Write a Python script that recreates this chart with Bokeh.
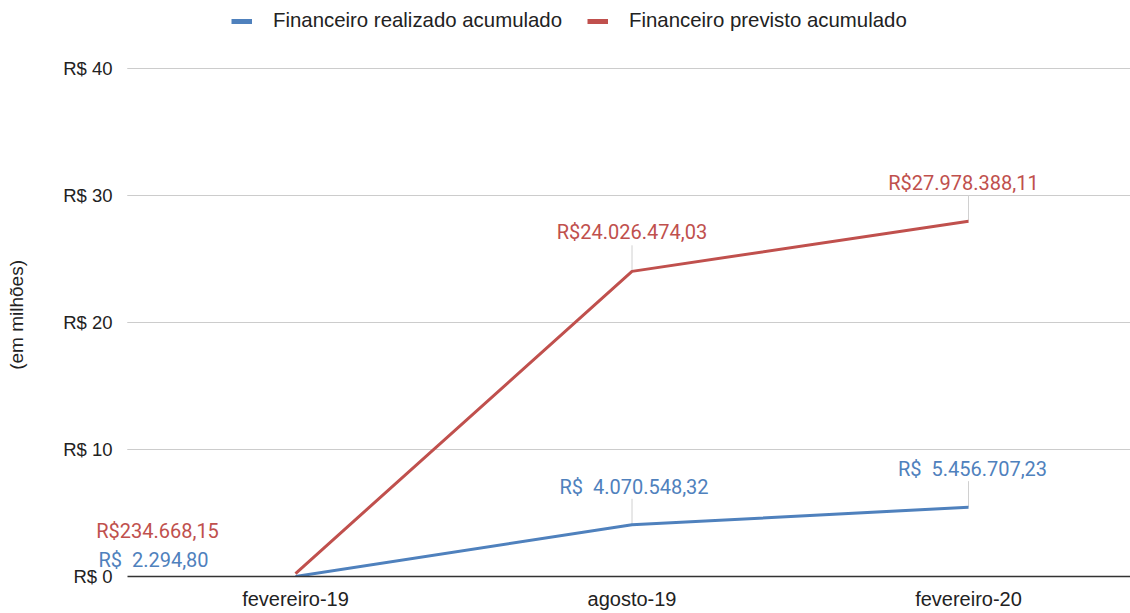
from bokeh.plotting import figure
from bokeh.models import ColumnDataSource, Legend, LegendItem, FixedTicker, Range1d
from bokeh.embed import file_html
from bokeh.resources import INLINE
from bokeh.core.properties import value

# ---- data ----
categories = ["fevereiro-19", "agosto-19", "fevereiro-20"]
realizado = [2294.80, 4070548.32, 5456707.23]          # R$
previsto = [234668.15, 24026474.03, 27978388.11]       # R$
y_ticks = [0, 10, 20, 30, 40]
y_tick_labels = ["R$ 0", "R$ 10", "R$ 20", "R$ 30", "R$ 40"]
series_names = ["Financeiro realizado acumulado", "Financeiro previsto acumulado"]
y_axis_title = "(em milhões)"


def brl(v):
    s = f"{v:,.2f}"
    return s.replace(",", "X").replace(".", ",").replace("X", ".")


BLUE = "#4f81bd"
RED = "#c0504d"
AXIS_FONT = "Liberation Sans"

x = list(range(len(categories)))
real_m = [v / 1e6 for v in realizado]
prev_m = [v / 1e6 for v in previsto]

W, H = 1130, 612
LEFT = 78
BOTTOM = 36
FRAME_H = H - BOTTOM
X_START, X_END = -0.6449, 2.4814
Y_END = 45.354

p = figure(width=W, height=H, output_backend="svg", toolbar_location=None,
           x_range=Range1d(X_START, X_END), y_range=Range1d(0, Y_END),
           min_border_left=LEFT, min_border_right=0, min_border_top=0,
           min_border_bottom=BOTTOM)
p.outline_line_color = None
p.background_fill_color = "white"
p.xgrid.grid_line_color = None
p.ygrid.grid_line_color = None

# horizontal gridlines (only over the category area)
grid_y = y_ticks[1:]
p.segment(x0=[-0.5] * len(grid_y), y0=grid_y, x1=[X_END] * len(grid_y), y1=grid_y,
          line_color="#cccccc", line_width=1)

# y axis
p.yaxis.ticker = FixedTicker(ticks=y_ticks)
p.yaxis.bounds = (y_ticks[0], y_ticks[-1])
p.yaxis.major_label_overrides = {t: l for t, l in zip(y_ticks, y_tick_labels)}
p.yaxis.axis_line_color = None
p.yaxis.major_tick_line_color = None
p.yaxis.minor_tick_line_color = None
p.yaxis.major_label_text_font = AXIS_FONT
p.yaxis.major_label_text_font_size = "18.5px"
p.yaxis.major_label_text_color = "#222222"
p.yaxis.major_label_standoff = -40
p.yaxis.axis_label = y_axis_title + "\u00a0" * 10
p.yaxis.axis_label_text_font = AXIS_FONT
p.yaxis.axis_label_text_font_size = "19px"
p.yaxis.axis_label_text_font_style = "normal"
p.yaxis.axis_label_text_color = "#222222"
p.yaxis.axis_label_standoff = 33

# x axis
p.xaxis.ticker = FixedTicker(ticks=x)
p.xaxis.bounds = (-0.5, X_END)
p.xaxis.major_label_overrides = {i: c for i, c in zip(x, categories)}
p.xaxis.axis_line_color = "#333333"
p.xaxis.axis_line_width = 1.5
p.xaxis.major_tick_line_color = None
p.xaxis.minor_tick_line_color = None
p.xaxis.major_label_text_font = AXIS_FONT
p.xaxis.major_label_text_font_size = "20px"
p.xaxis.major_label_text_color = "#222222"
p.xaxis.major_label_standoff = 5

# leader lines for labels (from point up toward label)
lead_x = x[1:] + x[1:]
lead_y0 = real_m[1:] + prev_m[1:]
lead_y1 = [v + 2.05 for v in lead_y0]
p.segment(x0=lead_x, y0=lead_y0, x1=lead_x, y1=lead_y1, line_color="#d0d0d0", line_width=1)

# lines
p.line(x, real_m, line_color=BLUE, line_width=3)
p.line(x, prev_m, line_color=RED, line_width=3)

# data labels
real_src = ColumnDataSource(dict(
    x=x, y=real_m,
    t=["R$\u00a0 " + brl(v) for v in realizado],
    dx=[-142, 2, 4], dy=[-16, -38, -38]))
prev_src = ColumnDataSource(dict(
    x=x, y=prev_m,
    t=["R$" + brl(v) for v in previsto],
    dx=[-138, 0, -5], dy=[-43, -39, -38]))
for src, col in ((real_src, BLUE), (prev_src, RED)):
    p.text(x="x", y="y", text="t", source=src, x_offset="dx", y_offset="dy",
           text_align="center", text_baseline="middle", text_color=col,
           text_font=value("Roboto"), text_font_size="20px")

# legend (placeholder renderers for thick swatches)
nan = float("nan")
lr1 = p.line([nan], [nan], line_color=BLUE, line_width=5)
lr2 = p.line([nan], [nan], line_color=RED, line_width=5)
legend = Legend(items=[LegendItem(label=series_names[0], renderers=[lr1]),
                       LegendItem(label=series_names[1], renderers=[lr2])],
                orientation="horizontal", location=(231 - LEFT, FRAME_H - 32),
                border_line_color=None, background_fill_alpha=0,
                label_text_font=AXIS_FONT, label_text_font_size="20.4px",
                label_text_color="#222222",
                glyph_width=21, glyph_height=20, label_standoff=21,
                spacing=25, padding=2, margin=0)
p.add_layout(legend)

open("out.html", "w").write(file_html(p, INLINE))
